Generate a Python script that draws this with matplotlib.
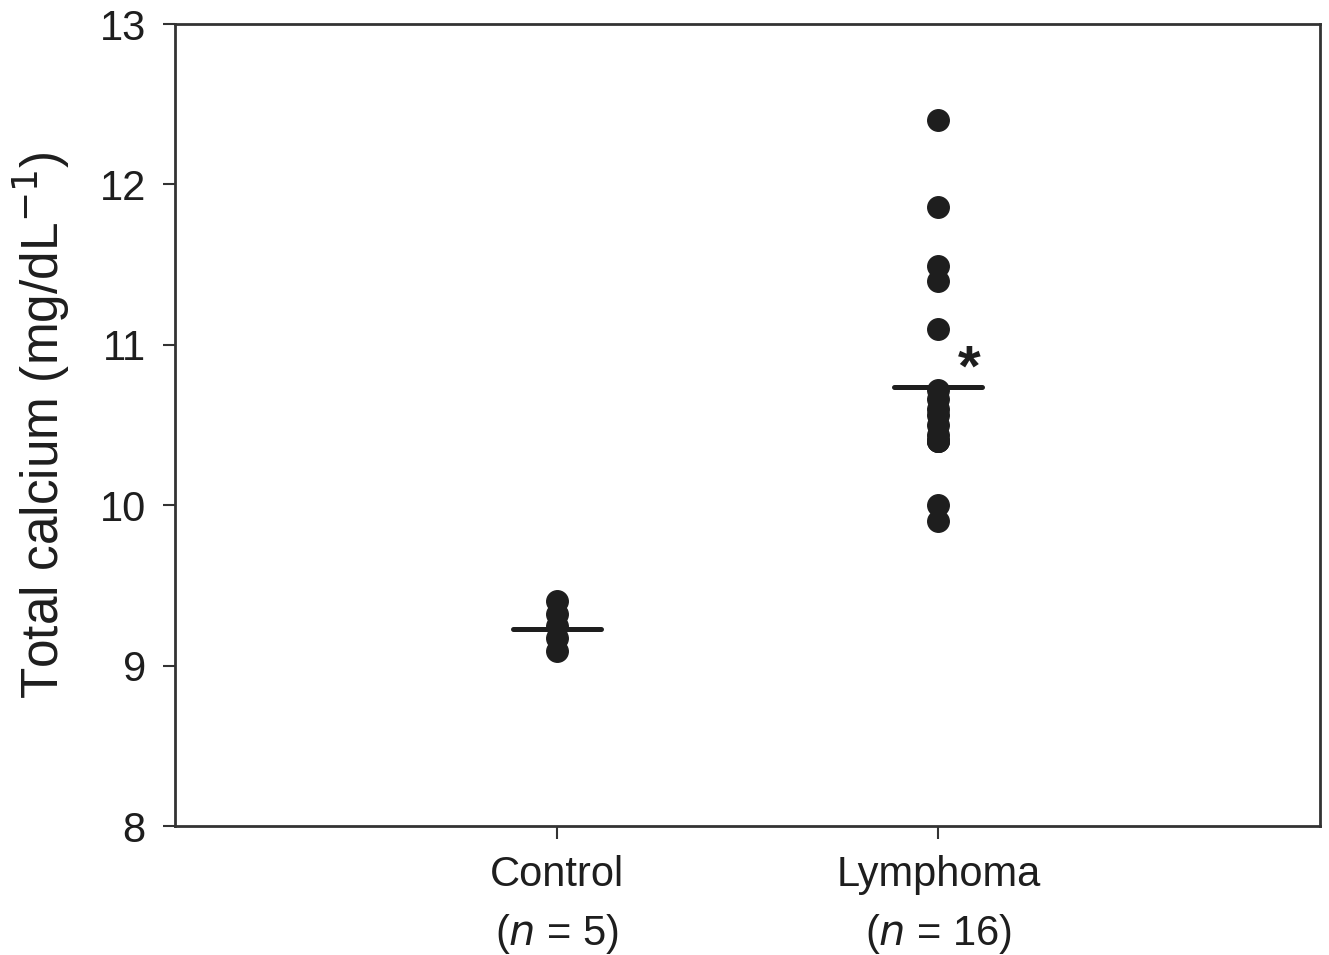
import matplotlib
matplotlib.use("Agg")
import matplotlib.pyplot as plt
import numpy as np

plt.rcParams['font.family'] = ['Liberation Sans', 'DejaVu Sans']

groups = ['Control\n($n$ = 5)', 'Lymphoma\n($n$ = 16)']
control = [9.4, 9.32, 9.25, 9.17, 9.09]
lymphoma = [12.4, 11.86, 11.49, 11.4, 11.1, 10.72, 10.66, 10.6, 10.56,
            10.5, 10.44, 10.4, 10.4, 10.4, 10.0, 9.9]
means = [9.23, 10.74]

fig = plt.figure(figsize=(13.29, 9.55), dpi=100)
ax = fig.add_axes([175 / 1329, 1 - 826 / 955, 1145 / 1329, 802 / 955])

for i, vals in enumerate([control, lymphoma]):
    ax.plot([i + 1] * len(vals), vals, 'o', color='#1e1e1e', markersize=15.5,
            linestyle='none', zorder=3)
    ax.plot([i + 1 - 0.115, i + 1 + 0.115], [means[i], means[i]], color='#1e1e1e',
            lw=3.6, solid_capstyle='round', zorder=4)

ax.text(2.08, 10.84, '*', fontsize=42, fontweight='bold', ha='center', va='center',
        color='#1e1e1e')

ax.set_xlim(0, 3)
ax.set_ylim(8, 13)
ax.set_xticks([1, 2])
ax.set_xticklabels(groups, fontsize=30, linespacing=1.5)
ax.set_yticks([8, 9, 10, 11, 12, 13])
ax.tick_params(axis='both', direction='out', length=9, width=1.5, labelsize=30,
               color='#333333', pad=12, labelcolor='#1e1e1e')
ax.tick_params(axis='x', pad=12)
ax.set_ylabel('Total calcium (mg/dL$^{-1}$)', fontsize=37, labelpad=20,
              color='#1e1e1e')
for s in ax.spines.values():
    s.set_linewidth(2)
    s.set_color('#333333')

fig.savefig('out.png', dpi=100)
